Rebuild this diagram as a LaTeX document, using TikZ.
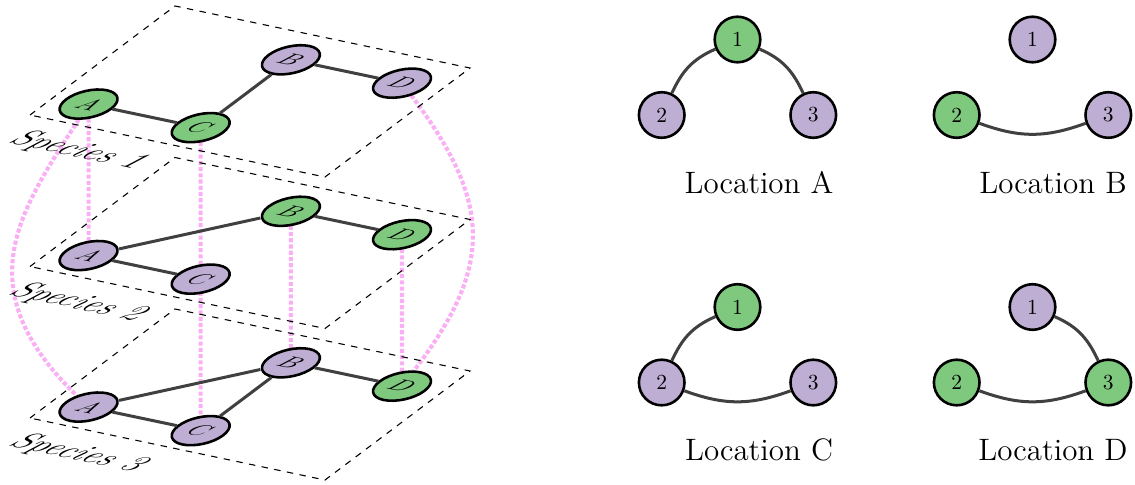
\documentclass[tikz,border=0pt]{standalone}
\usepackage{tikz}
\pgfdeclarelayer{bg}
\pgfsetlayers{bg,main}
\definecolor{accgreen}{HTML}{7FC97F}
\definecolor{accpurple}{HTML}{BEAED4}
\definecolor{edgegray}{HTML}{404040}
\definecolor{linkpink}{RGB}{250,175,245}
\tikzset{
  vert/.style={circle, draw=black, line width=1.2pt, minimum size=21.2pt, inner sep=0pt, font=\fontsize{10}{12}\selectfont},
  gv/.style={vert, fill=accgreen},
  pv/.style={vert, fill=accpurple},
  lgv/.style={gv, font=\fontsize{11}{13}\selectfont},
  lpv/.style={pv, font=\fontsize{11}{13}\selectfont},
  edge/.style={draw=edgegray, line width=1.4pt},
  link/.style={draw=linkpink, line width=1.9pt, densely dotted},
  plane/.style={draw=black, dashed, line width=0.5pt},
  loclabel/.style={font=\fontsize{14.4}{17}\selectfont},
  specieslabel/.style={font=\fontsize{15.5}{18}\selectfont\itshape, anchor=base west, inner sep=0pt},
  layer/.style={shift={#1}, x=0.465pt, y=0.465pt, cm={0.9833,-0.2067,0.8056,0.6056,(0,0)}, transform shape}
}
\begin{document}
\begin{tikzpicture}[x=0.465pt, y=-0.465pt]
\useasboundingbox (0,0) rectangle (1135,484);

% Layer 1
\begin{scope}[layer={(30,115)}]
  \draw[plane] (0,0) rectangle (300,180);
  \node[lgv] (A1) at (35,30) {$A$};
  \node[lgv] (C1) at (149,30) {$C$};
  \node[lpv] (B1) at (149,142) {$B$};
  \node[lpv] (D1) at (262,142) {$D$};
  \node[specieslabel] (S1) at (11,-42) {Species 1};
  \draw[edge] (A1) -- (C1);
  \draw[edge] (C1) -- (B1);
  \draw[edge] (B1) -- (D1);
\end{scope}

% Layer 2
\begin{scope}[layer={(30,266.5)}]
  \draw[plane] (0,0) rectangle (300,180);
  \node[lpv] (A2) at (35,30) {$A$};
  \node[lpv] (C2) at (149,30) {$C$};
  \node[lgv] (B2) at (149,142) {$B$};
  \node[lgv] (D2) at (262,142) {$D$};
  \node[specieslabel] (S2) at (11,-42) {Species 2};
  \draw[edge] (A2) -- (B2);
  \draw[edge] (A2) -- (C2);
  \draw[edge] (B2) -- (D2);
\end{scope}

% Layer 3
\begin{scope}[layer={(30,418)}]
  \draw[plane] (0,0) rectangle (300,180);
  \node[lpv] (A3) at (35,30) {$A$};
  \node[lpv] (C3) at (149,30) {$C$};
  \node[lpv] (B3) at (149,142) {$B$};
  \node[lgv] (D3) at (262,142) {$D$};
  \node[specieslabel] (S3) at (11,-42) {Species 3};
  \draw[edge] (A3) -- (B3);
  \draw[edge] (A3) -- (C3);
  \draw[edge] (C3) -- (B3);
  \draw[edge] (B3) -- (D3);
\end{scope}

% inter-layer links
\begin{pgfonlayer}{bg}
  \draw[link] (A1) -- (A2);
  \draw[link] (C1) -- (C3);
  \draw[link] (B2) -- (B3);
  \draw[link] (D2) -- (D3);
  \draw[link] (A1) .. controls +(-68,106) and +(-124,-120) .. (A3);
  \draw[link] (D1) .. controls +(90,119) and +(92,-120) .. (D3);
\end{pgfonlayer}

% Location A
\node[gv] (LA1) at (737.5,39.5) {1};
\node[pv] (LA2) at (661.7,115) {2};
\node[pv] (LA3) at (813.3,115) {3};
\draw[edge] (LA1) .. controls +(-46,20) and +(20,-43) .. (LA2);
\draw[edge] (LA1) .. controls +(46,20) and +(-20,-43) .. (LA3);
\node[loclabel] (labA) at (759,183) {Location A};

% Location B
\node[pv] (LB1) at (1032.5,39.5) {1};
\node[gv] (LB2) at (956.7,115) {2};
\node[pv] (LB3) at (1108.3,115) {3};
\draw[edge] (LB2) .. controls +(63,23) and +(-63,23) .. (LB3);
\node[loclabel] (labB) at (1053,183) {Location B};

% Location C
\node[gv] (LC1) at (737.5,307) {1};
\node[pv] (LC2) at (661.7,382.5) {2};
\node[pv] (LC3) at (813.3,382.5) {3};
\draw[edge] (LC1) .. controls +(-46,20) and +(20,-43) .. (LC2);
\draw[edge] (LC2) .. controls +(63,23) and +(-63,23) .. (LC3);
\node[loclabel] (labC) at (759,450) {Location C};

% Location D
\node[pv] (LD1) at (1032.5,307) {1};
\node[gv] (LD2) at (956.7,382.5) {2};
\node[gv] (LD3) at (1108.3,382.5) {3};
\draw[edge] (LD1) .. controls +(46,20) and +(-20,-43) .. (LD3);
\draw[edge] (LD2) .. controls +(63,23) and +(-63,23) .. (LD3);
\node[loclabel] (labD) at (1053,450) {Location D};
\end{tikzpicture}
\end{document}
